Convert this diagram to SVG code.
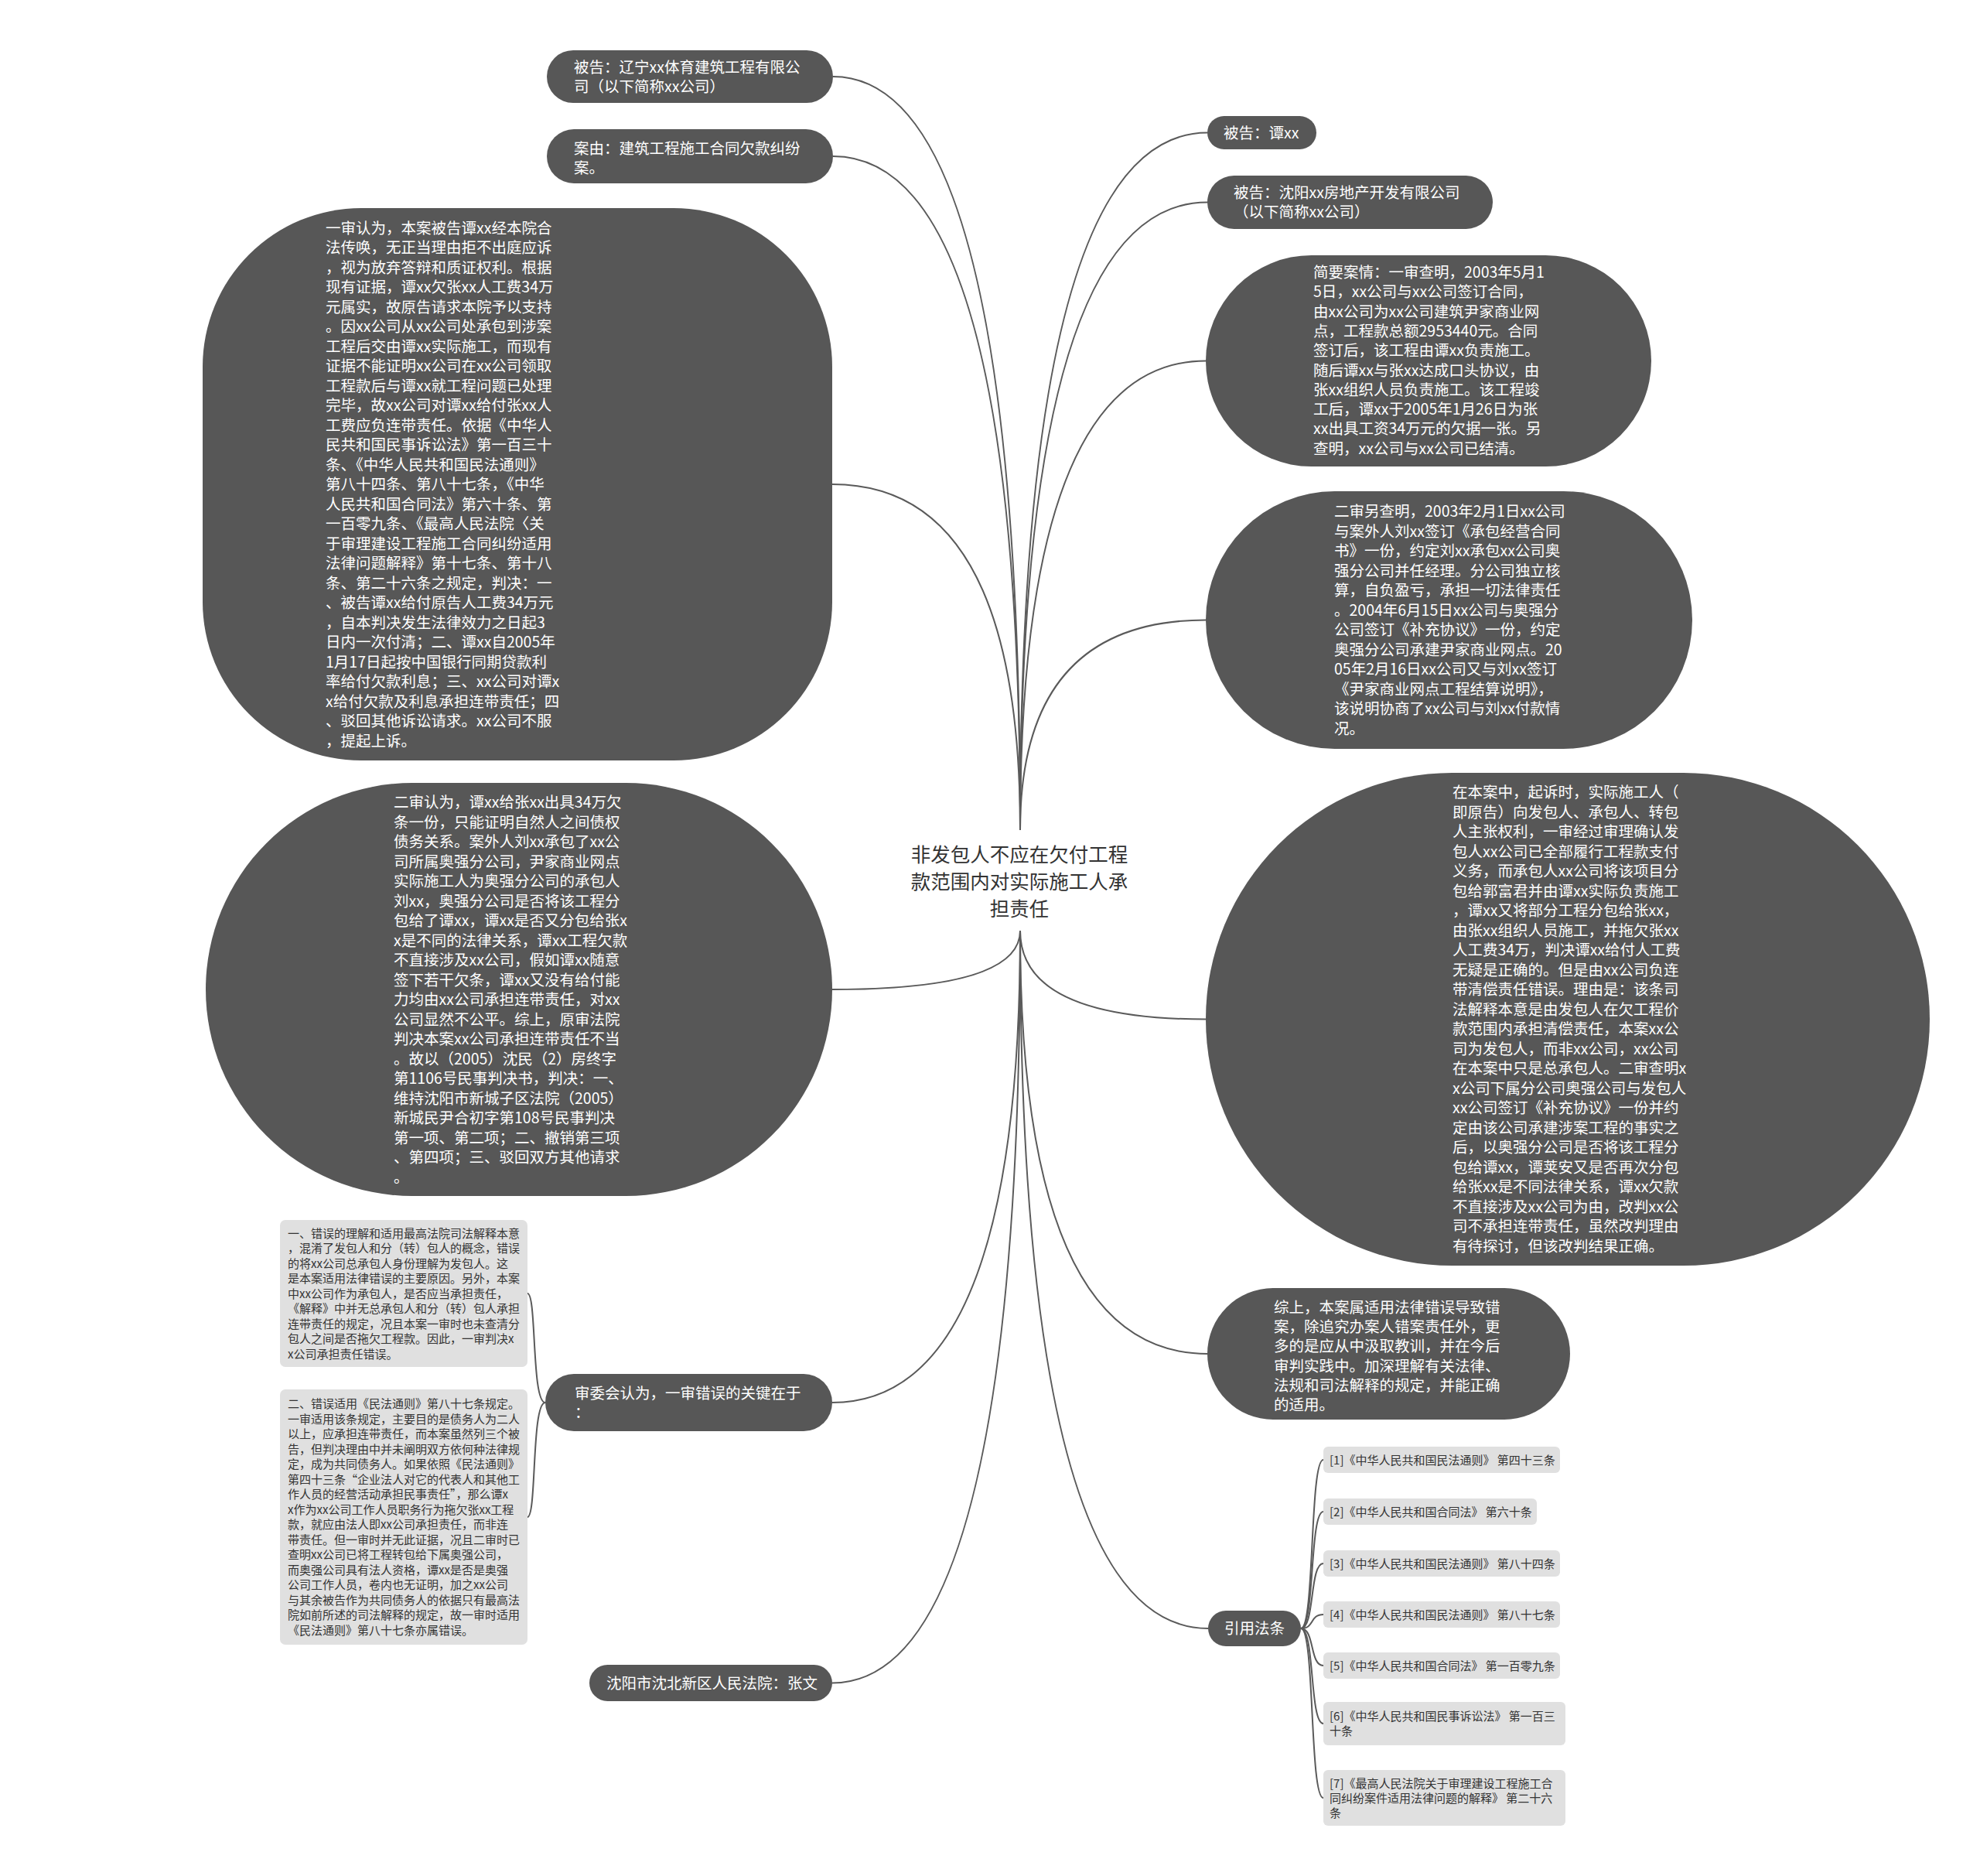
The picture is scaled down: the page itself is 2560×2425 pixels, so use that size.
<svg xmlns="http://www.w3.org/2000/svg" width="2560" height="2425" viewBox="0 0 2560 2425">
<style>
.n{fill:#575757}
.t{fill:#ffffff;font-family:"Noto Sans CJK SC","Noto Sans",sans-serif;font-size:19.5px}
.c{fill:#333333;font-family:"Noto Sans CJK SC","Noto Sans",sans-serif;font-size:25.5px}
.g{fill:#e0e0e0}
.gt{fill:#333333;font-family:"Noto Sans CJK SC","Noto Sans",sans-serif;font-size:15px}
.rt{fill:#333333;font-family:"Noto Sans CJK SC","Noto Sans",sans-serif;font-size:15px}
.l{fill:none;stroke:#5a5a5a;stroke-width:2}
</style>
<rect width="2560" height="2425" fill="#ffffff"/>
<g id="connectors">
<path class="l" d="M1319 1073 Q1319 99 1077 99"/>
<path class="l" d="M1319 1073 Q1319 202 1077 202"/>
<path class="l" d="M1319 1073 Q1319 626 1076 626"/>
<path class="l" d="M1319 1073 Q1319 171.5 1561 171.5"/>
<path class="l" d="M1319 1073 Q1319 261.5 1561 261.5"/>
<path class="l" d="M1319 1073 Q1319 466.5 1559 466.5"/>
<path class="l" d="M1319 1073 Q1319 801.5 1559 801.5"/>
<path class="l" d="M1319 1203 Q1319 1279 1076 1279"/>
<path class="l" d="M1319 1203 Q1319 1813 1076 1813"/>
<path class="l" d="M1319 1203 Q1319 2175.5 1076 2175.5"/>
<path class="l" d="M1319 1203 Q1319 1317.5 1559 1317.5"/>
<path class="l" d="M1319 1203 Q1319 1750 1561 1750"/>
<path class="l" d="M1319 1203 Q1319 2105 1562 2105"/>
<path class="l" d="M705 1813 C687 1813 694 1672 682 1672"/>
<path class="l" d="M705 1813 C687 1813 694 1961 682 1961"/>
<path class="l" d="M1682 2105 C1700 2105 1693 1887 1711 1887"/>
<path class="l" d="M1682 2105 C1700 2105 1693 1954 1711 1954"/>
<path class="l" d="M1682 2105 C1700 2105 1693 2021 1711 2021"/>
<path class="l" d="M1682 2105 C1700 2105 1693 2087 1711 2087"/>
<path class="l" d="M1682 2105 C1700 2105 1693 2153 1711 2153"/>
<path class="l" d="M1682 2105 C1700 2105 1693 2228 1711 2228"/>
<path class="l" d="M1682 2105 C1700 2105 1693 2324 1711 2324"/>
</g>
<g id="root">
<text class="c" text-anchor="middle"><tspan x="1318" y="1114">非发包人不应在欠付工程</tspan><tspan x="1318" y="1149">款范围内对实际施工人承</tspan><tspan x="1318" y="1184">担责任</tspan></text>
</g>
<g id="n-beigao1">
<rect class="n" x="707" y="65" width="370" height="68" rx="34"/>
<text class="t"><tspan x="742" y="94">被告：辽宁xx体育建筑工程有限公</tspan><tspan x="742" y="119">司（以下简称xx公司）</tspan></text>
</g>
<g id="n-anyou">
<rect class="n" x="707" y="167" width="370" height="70" rx="35"/>
<text class="t"><tspan x="742" y="199">案由：建筑工程施工合同欠款纠纷</tspan><tspan x="742" y="224">案。</tspan></text>
</g>
<g id="n-yishen">
<rect class="n" x="262" y="269" width="814" height="714" rx="205"/>
<text class="t">
<tspan x="421" y="301.5">一审认为，本案被告谭xx经本院合</tspan>
<tspan x="421" y="327">法传唤，无正当理由拒不出庭应诉</tspan>
<tspan x="421" y="352.5">，视为放弃答辩和质证权利。根据</tspan>
<tspan x="421" y="378">现有证据，谭xx欠张xx人工费34万</tspan>
<tspan x="421" y="403.5">元属实，故原告请求本院予以支持</tspan>
<tspan x="421" y="429">。因xx公司从xx公司处承包到涉案</tspan>
<tspan x="421" y="454.5">工程后交由谭xx实际施工，而现有</tspan>
<tspan x="421" y="480">证据不能证明xx公司在xx公司领取</tspan>
<tspan x="421" y="505.5">工程款后与谭xx就工程问题已处理</tspan>
<tspan x="421" y="531">完毕，故xx公司对谭xx给付张xx人</tspan>
<tspan x="421" y="556.5">工费应负连带责任。依据《中华人</tspan>
<tspan x="421" y="582">民共和国民事诉讼法》第一百三十</tspan>
<tspan x="421" y="607.5">条、《中华人民共和国民法通则》</tspan>
<tspan x="421" y="633">第八十四条、第八十七条，《中华</tspan>
<tspan x="421" y="658.5">人民共和国合同法》第六十条、第</tspan>
<tspan x="421" y="684">一百零九条、《最高人民法院〈关</tspan>
<tspan x="421" y="709.5">于审理建设工程施工合同纠纷适用</tspan>
<tspan x="421" y="735">法律问题解释》第十七条、第十八</tspan>
<tspan x="421" y="760.5">条、第二十六条之规定，判决：一</tspan>
<tspan x="421" y="786">、被告谭xx给付原告人工费34万元</tspan>
<tspan x="421" y="811.5">，自本判决发生法律效力之日起3</tspan>
<tspan x="421" y="837">日内一次付清；二、谭xx自2005年</tspan>
<tspan x="421" y="862.5">1月17日起按中国银行同期贷款利</tspan>
<tspan x="421" y="888">率给付欠款利息；三、xx公司对谭x</tspan>
<tspan x="421" y="913.5">x给付欠款及利息承担连带责任；四</tspan>
<tspan x="421" y="939">、驳回其他诉讼请求。xx公司不服</tspan>
<tspan x="421" y="964.5">，提起上诉。</tspan>
</text>
</g>
<g id="n-ershen">
<rect class="n" x="266" y="1012" width="810" height="534" rx="267"/>
<text class="t">
<tspan x="509" y="1044">二审认为，谭xx给张xx出具34万欠</tspan>
<tspan x="509" y="1069.5">条一份，只能证明自然人之间债权</tspan>
<tspan x="509" y="1095">债务关系。案外人刘xx承包了xx公</tspan>
<tspan x="509" y="1120.5">司所属奥强分公司，尹家商业网点</tspan>
<tspan x="509" y="1146">实际施工人为奥强分公司的承包人</tspan>
<tspan x="509" y="1171.5">刘xx，奥强分公司是否将该工程分</tspan>
<tspan x="509" y="1197">包给了谭xx，谭xx是否又分包给张x</tspan>
<tspan x="509" y="1222.5">x是不同的法律关系，谭xx工程欠款</tspan>
<tspan x="509" y="1248">不直接涉及xx公司，假如谭xx随意</tspan>
<tspan x="509" y="1273.5">签下若干欠条，谭xx又没有给付能</tspan>
<tspan x="509" y="1299">力均由xx公司承担连带责任，对xx</tspan>
<tspan x="509" y="1324.5">公司显然不公平。综上，原审法院</tspan>
<tspan x="509" y="1350">判决本案xx公司承担连带责任不当</tspan>
<tspan x="509" y="1375.5">。故以（2005）沈民（2）房终字</tspan>
<tspan x="509" y="1401">第1106号民事判决书，判决：一、</tspan>
<tspan x="509" y="1426.5">维持沈阳市新城子区法院（2005）</tspan>
<tspan x="509" y="1452">新城民尹合初字第108号民事判决</tspan>
<tspan x="509" y="1477.5">第一项、第二项；二、撤销第三项</tspan>
<tspan x="509" y="1503">、第四项；三、驳回双方其他请求</tspan>
<tspan x="509" y="1528.5">。</tspan>
</text>
</g>
<g id="n-shenwei">
<rect class="n" x="705" y="1776" width="371" height="74" rx="37"/>
<text class="t"><tspan x="743" y="1807.5">审委会认为，一审错误的关键在于</tspan><tspan x="743" y="1833">：</tspan></text>
</g>
<g id="n-err1">
<rect class="g" x="362" y="1577" width="320" height="190" rx="7"/>
<text class="gt">
<tspan x="372" y="1599.5">一、错误的理解和适用最高法院司法解释本意</tspan>
<tspan x="372" y="1619">，混淆了发包人和分（转）包人的概念，错误</tspan>
<tspan x="372" y="1638.5">的将xx公司总承包人身份理解为发包人。这</tspan>
<tspan x="372" y="1658">是本案适用法律错误的主要原因。另外，本案</tspan>
<tspan x="372" y="1677.5">中xx公司作为承包人，是否应当承担责任，</tspan>
<tspan x="372" y="1697">《解释》中并无总承包人和分（转）包人承担</tspan>
<tspan x="372" y="1716.5">连带责任的规定，况且本案一审时也未查清分</tspan>
<tspan x="372" y="1736">包人之间是否拖欠工程款。因此，一审判决x</tspan>
<tspan x="372" y="1755.5">x公司承担责任错误。</tspan>
</text>
</g>
<g id="n-err2">
<rect class="g" x="362" y="1796" width="320" height="330" rx="7"/>
<text class="gt">
<tspan x="372" y="1820">二、错误适用《民法通则》第八十七条规定。</tspan>
<tspan x="372" y="1839.5">一审适用该条规定，主要目的是债务人为二人</tspan>
<tspan x="372" y="1859">以上，应承担连带责任，而本案虽然列三个被</tspan>
<tspan x="372" y="1878.5">告，但判决理由中并未阐明双方依何种法律规</tspan>
<tspan x="372" y="1898">定，成为共同债务人。如果依照《民法通则》</tspan>
<tspan x="372" y="1917.5">第四十三条“企业法人对它的代表人和其他工</tspan>
<tspan x="372" y="1937">作人员的经营活动承担民事责任”，那么谭x</tspan>
<tspan x="372" y="1956.5">x作为xx公司工作人员职务行为拖欠张xx工程</tspan>
<tspan x="372" y="1976">款，就应由法人即xx公司承担责任，而非连</tspan>
<tspan x="372" y="1995.5">带责任。但一审时并无此证据，况且二审时已</tspan>
<tspan x="372" y="2015">查明xx公司已将工程转包给下属奥强公司，</tspan>
<tspan x="372" y="2034.5">而奥强公司具有法人资格，谭xx是否是奥强</tspan>
<tspan x="372" y="2054">公司工作人员，卷内也无证明，加之xx公司</tspan>
<tspan x="372" y="2073.5">与其余被告作为共同债务人的依据只有最高法</tspan>
<tspan x="372" y="2093">院如前所述的司法解释的规定，故一审时适用</tspan>
<tspan x="372" y="2112.5">《民法通则》第八十七条亦属错误。</tspan>
</text>
</g>
<g id="n-court">
<rect class="n" x="762" y="2152" width="314" height="47" rx="23.5"/>
<text class="t"><tspan x="784" y="2182.5">沈阳市沈北新区人民法院：张文</tspan></text>
</g>
<g id="n-beigao-tan">
<rect class="n" x="1561" y="150" width="141" height="43" rx="21.5"/>
<text class="t"><tspan x="1582" y="178.5">被告：谭xx</tspan></text>
</g>
<g id="n-beigao-sy">
<rect class="n" x="1561" y="227" width="369" height="69" rx="34.5"/>
<text class="t"><tspan x="1595" y="256">被告：沈阳xx房地产开发有限公司</tspan><tspan x="1595" y="281">（以下简称xx公司）</tspan></text>
</g>
<g id="n-jianyao">
<rect class="n" x="1559" y="330" width="576" height="273" rx="136.5"/>
<text class="t">
<tspan x="1698" y="359">简要案情：一审查明，2003年5月1</tspan>
<tspan x="1698" y="384.3">5日，xx公司与xx公司签订合同，</tspan>
<tspan x="1698" y="409.6">由xx公司为xx公司建筑尹家商业网</tspan>
<tspan x="1698" y="434.9">点，工程款总额2953440元。合同</tspan>
<tspan x="1698" y="460.2">签订后，该工程由谭xx负责施工。</tspan>
<tspan x="1698" y="485.5">随后谭xx与张xx达成口头协议，由</tspan>
<tspan x="1698" y="510.8">张xx组织人员负责施工。该工程竣</tspan>
<tspan x="1698" y="536.1">工后，谭xx于2005年1月26日为张</tspan>
<tspan x="1698" y="561.4">xx出具工资34万元的欠据一张。另</tspan>
<tspan x="1698" y="586.7">查明，xx公司与xx公司已结清。</tspan>
</text>
</g>
<g id="n-lingcha">
<rect class="n" x="1559" y="635" width="629" height="333" rx="166.5"/>
<text class="t">
<tspan x="1725" y="668">二审另查明，2003年2月1日xx公司</tspan>
<tspan x="1725" y="693.5">与案外人刘xx签订《承包经营合同</tspan>
<tspan x="1725" y="719">书》一份，约定刘xx承包xx公司奥</tspan>
<tspan x="1725" y="744.5">强分公司并任经理。分公司独立核</tspan>
<tspan x="1725" y="770">算，自负盈亏，承担一切法律责任</tspan>
<tspan x="1725" y="795.5">。2004年6月15日xx公司与奥强分</tspan>
<tspan x="1725" y="821">公司签订《补充协议》一份，约定</tspan>
<tspan x="1725" y="846.5">奥强分公司承建尹家商业网点。20</tspan>
<tspan x="1725" y="872">05年2月16日xx公司又与刘xx签订</tspan>
<tspan x="1725" y="897.5">《尹家商业网点工程结算说明》，</tspan>
<tspan x="1725" y="923">该说明协商了xx公司与刘xx付款情</tspan>
<tspan x="1725" y="948.5">况。</tspan>
</text>
</g>
<g id="n-benan">
<rect class="n" x="1559" y="999" width="936" height="637" rx="318.5"/>
<text class="t">
<tspan x="1878" y="1031">在本案中，起诉时，实际施工人（</tspan>
<tspan x="1878" y="1056.5">即原告）向发包人、承包人、转包</tspan>
<tspan x="1878" y="1082">人主张权利，一审经过审理确认发</tspan>
<tspan x="1878" y="1107.5">包人xx公司已全部履行工程款支付</tspan>
<tspan x="1878" y="1133">义务，而承包人xx公司将该项目分</tspan>
<tspan x="1878" y="1158.5">包给郭富君并由谭xx实际负责施工</tspan>
<tspan x="1878" y="1184">，谭xx又将部分工程分包给张xx，</tspan>
<tspan x="1878" y="1209.5">由张xx组织人员施工，并拖欠张xx</tspan>
<tspan x="1878" y="1235">人工费34万，判决谭xx给付人工费</tspan>
<tspan x="1878" y="1260.5">无疑是正确的。但是由xx公司负连</tspan>
<tspan x="1878" y="1286">带清偿责任错误。理由是：该条司</tspan>
<tspan x="1878" y="1311.5">法解释本意是由发包人在欠工程价</tspan>
<tspan x="1878" y="1337">款范围内承担清偿责任，本案xx公</tspan>
<tspan x="1878" y="1362.5">司为发包人，而非xx公司，xx公司</tspan>
<tspan x="1878" y="1388">在本案中只是总承包人。二审查明x</tspan>
<tspan x="1878" y="1413.5">x公司下属分公司奥强公司与发包人</tspan>
<tspan x="1878" y="1439">xx公司签订《补充协议》一份并约</tspan>
<tspan x="1878" y="1464.5">定由该公司承建涉案工程的事实之</tspan>
<tspan x="1878" y="1490">后，以奥强分公司是否将该工程分</tspan>
<tspan x="1878" y="1515.5">包给谭xx，谭荚安又是否再次分包</tspan>
<tspan x="1878" y="1541">给张xx是不同法律关系，谭xx欠款</tspan>
<tspan x="1878" y="1566.5">不直接涉及xx公司为由，改判xx公</tspan>
<tspan x="1878" y="1592">司不承担连带责任，虽然改判理由</tspan>
<tspan x="1878" y="1617.5">有待探讨，但该改判结果正确。</tspan>
</text>
</g>
<g id="n-zongshang">
<rect class="n" x="1561" y="1665" width="469" height="170" rx="85"/>
<text class="t">
<tspan x="1647" y="1697">综上，本案属适用法律错误导致错</tspan>
<tspan x="1647" y="1722.2">案，除追究办案人错案责任外，更</tspan>
<tspan x="1647" y="1747.4">多的是应从中汲取教训，并在今后</tspan>
<tspan x="1647" y="1772.6">审判实践中。加深理解有关法律、</tspan>
<tspan x="1647" y="1797.8">法规和司法解释的规定，并能正确</tspan>
<tspan x="1647" y="1823">的适用。</tspan>
</text>
</g>
<g id="n-yinyong">
<rect class="n" x="1562" y="2082" width="120" height="46" rx="23"/>
<text class="t" text-anchor="middle"><tspan x="1622" y="2112">引用法条</tspan></text>
</g>
<g id="n-ref1">
<rect class="g" x="1711" y="1870" width="306" height="34" rx="6"/>
<text class="rt"><tspan x="1719" y="1892.5">[1]《中华人民共和国民法通则》 第四十三条</tspan></text>
</g>
<g id="n-ref2">
<rect class="g" x="1711" y="1937" width="276" height="34" rx="6"/>
<text class="rt"><tspan x="1719" y="1959.5">[2]《中华人民共和国合同法》 第六十条</tspan></text>
</g>
<g id="n-ref3">
<rect class="g" x="1711" y="2004" width="306" height="34" rx="6"/>
<text class="rt"><tspan x="1719" y="2026.5">[3]《中华人民共和国民法通则》 第八十四条</tspan></text>
</g>
<g id="n-ref4">
<rect class="g" x="1711" y="2070" width="306" height="34" rx="6"/>
<text class="rt"><tspan x="1719" y="2092.5">[4]《中华人民共和国民法通则》 第八十七条</tspan></text>
</g>
<g id="n-ref5">
<rect class="g" x="1711" y="2136" width="306" height="34" rx="6"/>
<text class="rt"><tspan x="1719" y="2158.5">[5]《中华人民共和国合同法》 第一百零九条</tspan></text>
</g>
<g id="n-ref6">
<rect class="g" x="1711" y="2200" width="313" height="56" rx="6"/>
<text class="rt"><tspan x="1719" y="2223.5">[6]《中华人民共和国民事诉讼法》 第一百三</tspan><tspan x="1719" y="2242.5">十条</tspan></text>
</g>
<g id="n-ref7">
<rect class="g" x="1711" y="2288" width="313" height="72" rx="6"/>
<text class="rt"><tspan x="1719" y="2310.5">[7]《最高人民法院关于审理建设工程施工合</tspan><tspan x="1719" y="2329.5">同纠纷案件适用法律问题的解释》 第二十六</tspan><tspan x="1719" y="2348.5">条</tspan></text>
</g>
</svg>
